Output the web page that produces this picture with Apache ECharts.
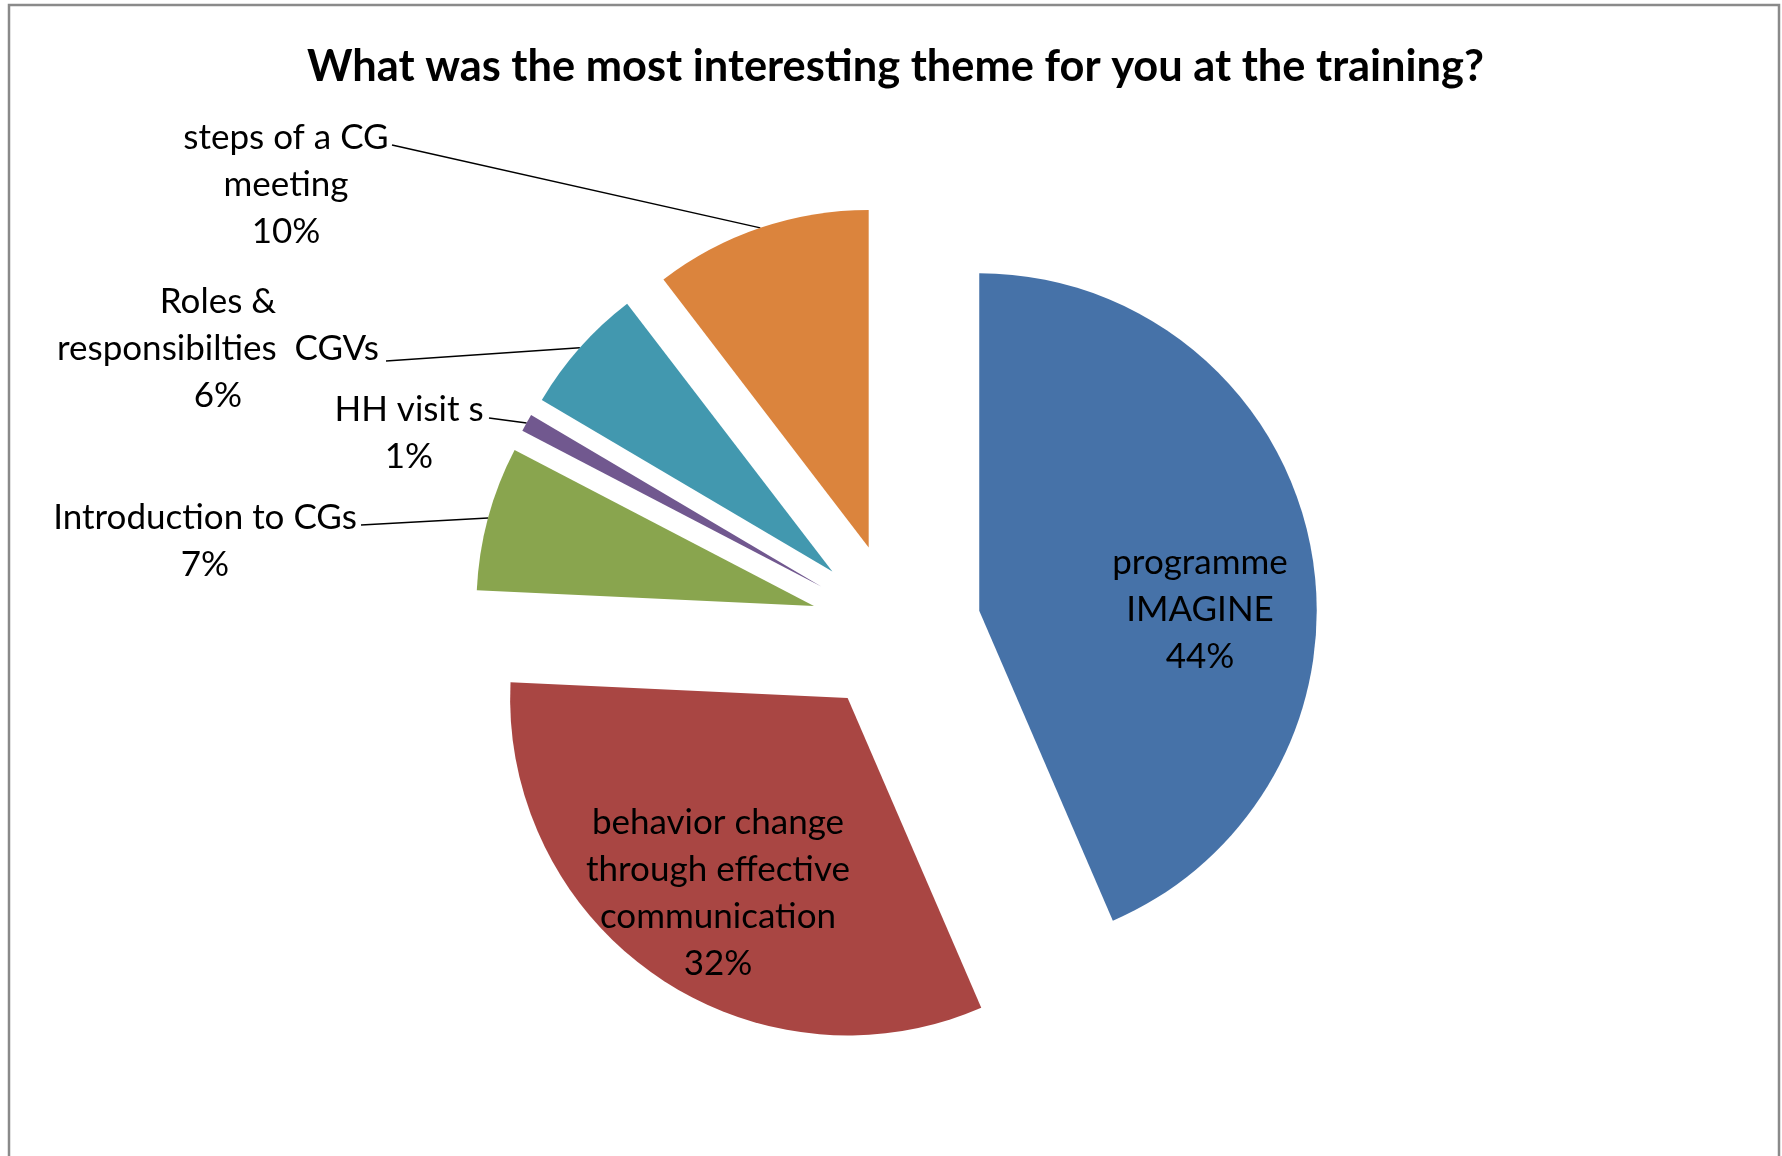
<!DOCTYPE html>
<html>
<head>
<meta charset="utf-8">
<script src="https://cdn.jsdelivr.net/npm/echarts@6/dist/echarts.min.js"></script>
<style>
  html, body { margin: 0; padding: 0; background: #fff; }
  #chart { width: 1782px; height: 1156px; }
</style>
</head>
<body>
<div id="chart"></div>
<script>
// slices, clockwise from 12 o'clock
var themes = [
  'programme\nIMAGINE',
  'behavior change\nthrough effective\ncommunication',
  'Introduction to CGs',
  'HH visit s',
  'Roles &\nresponsibilties  CGVs',
  'steps of a CG\nmeeting'
];
// shares (labels show them rounded)
var shares = [43.5, 32.2, 6.9, 0.85, 6.1, 10.4];
var colors = ['#4672a8', '#a94643', '#89a54e', '#71588f', '#4298af', '#db843d'];
var insideLabel = [true, true, false, false, false, false];

// label placement (centre of text block) and where the leader line meets it
var labelSpots = [
  [1200, 610], [718, 893], [205, 541], [409, 433], [218, 349], [286, 185]
];
var lineEnds = [null, null, [361, 525], [489, 418], [386, 361], [392, 145]];

var pieCenter = [896, 628];
var pieRadius = 337.5;
var explode = 85;

var myChart = echarts.init(document.getElementById('chart'));

var total = shares.reduce(function (a, b) { return a + b; }, 0);

// one pie per slice, each pushed out along its own middle angle (exploded pie)
var series = [];
var before = 0;
shares.forEach(function (v, k) {
  var mid = (before + v / 2) / total * Math.PI * 2;
  before += v;
  var c = [pieCenter[0] + explode * Math.sin(mid), pieCenter[1] - explode * Math.cos(mid)];
  series.push({
    type: 'pie',
    center: c,
    radius: pieRadius,
    startAngle: 90,
    clockwise: true,
    avoidLabelOverlap: false,
    silent: true,
    emphasis: { disabled: true },
    itemStyle: { borderWidth: 0 },
    label: {
      show: true,
      position: insideLabel[k] ? 'inside' : 'outside',
      formatter: function (p) { return p.name + '\n' + Math.round(p.percent) + '%'; },
      fontFamily: 'Lato',
      fontSize: 35,
      lineHeight: 47,
      color: '#000'
    },
    labelLine: {
      show: !insideLabel[k],
      length: 10,
      length2: 0,
      lineStyle: { color: '#000', width: 1.5 }
    },
    labelLayout: function (params) {
      if (params.dataIndex !== k) return {};
      var spot = labelSpots[k];
      var out = { x: spot[0], y: spot[1], align: 'center', verticalAlign: 'middle' };
      if (lineEnds[k] && params.labelLinePoints) {
        out.labelLinePoints = [params.labelLinePoints[0], lineEnds[k]];
      }
      return out;
    },
    data: themes.map(function (name, i) {
      return {
        name: name,
        value: shares[i],
        itemStyle: { color: i === k ? colors[i] : 'rgba(0,0,0,0)' },
        label: { show: i === k },
        labelLine: { show: i === k && !insideLabel[i] }
      };
    })
  });
});

var option = {
  backgroundColor: '#ffffff',
  animation: false,
  title: {
    text: 'What was the most interesting theme for you at the training?',
    left: 890.5,
    textAlign: 'center',
    top: 40,
    textStyle: {
      fontFamily: 'Lato',
      fontWeight: 'bold',
      fontSize: 43.4,
      color: '#000'
    }
  },
  graphic: [{
    type: 'rect',
    shape: { x: 9, y: 5, width: 1770, height: 1200 },
    style: { fill: 'none', stroke: '#8a8a8a', lineWidth: 2.5 },
    silent: true
  }],
  series: series
};

myChart.setOption(option);
</script>
</body>
</html>
